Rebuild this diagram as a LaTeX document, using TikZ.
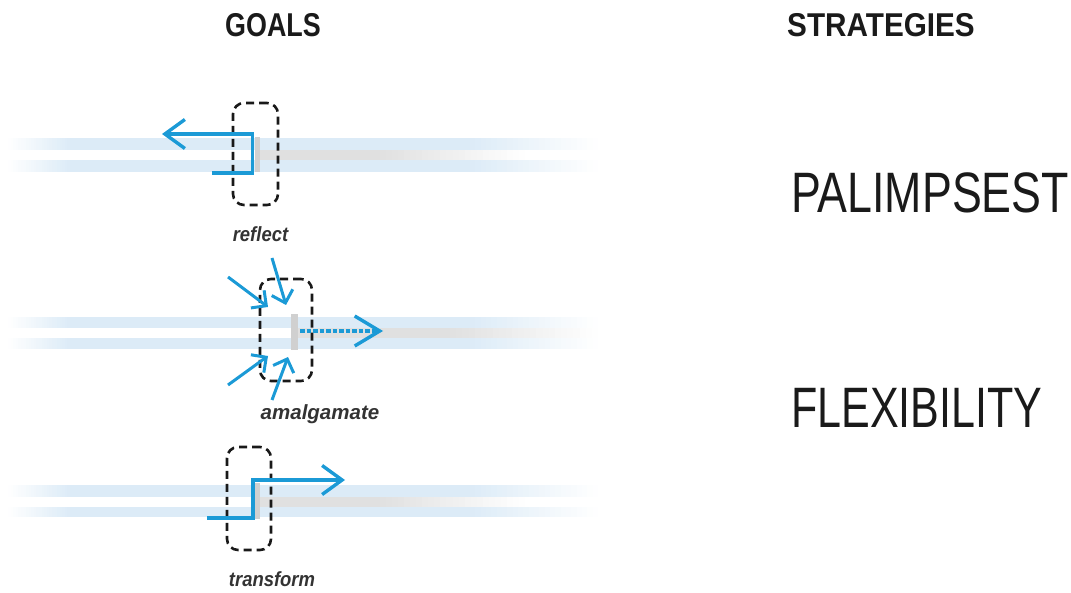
\documentclass[tikz,border=0pt]{standalone}
\usepackage{fontspec}
\setmainfont{Liberation Sans}
\newfontfamily\goalsfont[FakeStretch=0.815]{Liberation Sans}
\newfontfamily\stratfont[FakeStretch=0.9]{Liberation Sans}
\newfontfamily\palfont[FakeStretch=0.785]{Liberation Sans}
\newfontfamily\flexfont[FakeStretch=0.755]{Liberation Sans}
\newfontfamily\labfont[FakeStretch=0.9]{Liberation Sans}
\newfontfamily\labwidefont[FakeStretch=1.0]{Liberation Sans}
\usetikzlibrary{arrows.meta}
\definecolor{arrowblue}{HTML}{1B9AD6}
\definecolor{bandblue}{HTML}{DCEBF7}
\definecolor{bandgray}{HTML}{E0E0E0}
\definecolor{bargray}{HTML}{D0D0D0}
\definecolor{textdark}{HTML}{1A1A1A}
\newcommand\bandfadein[5]{%
  \foreach \i in {0,...,23}{%
    \pgfmathsetmacro\xa{#1+(#2-#1)*\i/24}%
    \pgfmathsetmacro\xb{#1+(#2-#1)*(\i+1)/24+0.4}%
    \pgfmathsetmacro\pc{100*(\i+0.5)/24}%
    \fill[#5!\pc!white] (\xa,#3) rectangle (\xb,#4);
  }}
\newcommand\bandfadeout[5]{%
  \foreach \i in {0,...,23}{%
    \pgfmathsetmacro\xa{#1+(#2-#1)*\i/24}%
    \pgfmathsetmacro\xb{#1+(#2-#1)*(\i+1)/24+0.4}%
    \pgfmathsetmacro\pc{100-100*(\i+0.5)/24}%
    \fill[#5!\pc!white] (\xa,#3) rectangle (\xb,#4);
  }}
\tikzset{
  goalbox/.style={draw=black!90, line width=2.6pt, dash pattern=on 8pt off 5pt,
    rounded corners=11pt, inner sep=0pt},
  flow/.style={draw=arrowblue, line width=3.4pt, line join=miter},
  bigtip/.style={-{Straight Barb[length=20pt,width=29pt]}},
  dashtip/.style={-{Straight Barb[length=25pt,width=30pt]}},
  smalltip/.style={-{Straight Barb[length=11pt,width=22pt]}},
  inflow/.style={draw=arrowblue, line width=3pt},
  heading/.style={anchor=base west, inner sep=0pt, text=textdark},
  strategy/.style={anchor=base west, inner sep=0pt, text=textdark},
  goallabel/.style={anchor=base, inner sep=0pt, text=black!80},
}
\begin{document}
\begin{tikzpicture}[x=1pt,y=-1pt]
\useasboundingbox (0,0) rectangle (1071,593);

% bands
\foreach \ua/\ub/\la/\lb/\gx/\gm/\ge in {138/150/160/172/259/380/525, 317/328/338/349/298/450/598, 485/497/507/517/260/380/525}{
  \bandfadein{8}{70}{\ua}{\ub}{bandblue}
  \fill[bandblue] (69.5,\ua) rectangle (470.5,\ub);
  \bandfadeout{470}{598}{\ua}{\ub}{bandblue}
  \bandfadein{8}{70}{\la}{\lb}{bandblue}
  \fill[bandblue] (69.5,\la) rectangle (470.5,\lb);
  \bandfadeout{470}{598}{\la}{\lb}{bandblue}
  \fill[bandgray] (\gx,\ub) rectangle (\gm+0.5,\la);
  \bandfadeout{\gm}{\ge}{\ub}{\la}{bandgray}
}
% gray bars
\fill[bargray] (255,137) rectangle (259.5,172);
\fill[bargray] (291,314) rectangle (298,350);
\fill[bargray] (255,483) rectangle (260,519);

% headings
\node[heading, font=\goalsfont\bfseries\fontsize{33}{33}\selectfont] (goals) at (225,37) {GOALS};
\node[heading, font=\stratfont\bfseries\fontsize{33}{33}\selectfont] (strategies) at (787,37) {STRATEGIES};
\node[strategy, font=\palfont\fontsize{57}{57}\selectfont] (palimpsest) at (791,213) {PALIMPSEST};
\node[strategy, font=\flexfont\fontsize{57}{57}\selectfont] (flexibility) at (791,428) {FLEXIBILITY};

% row 1: reflect
\node[goalbox, minimum width=45pt, minimum height=102pt] (box1) at (255.5,154) {};
\coordinate (r1s) at (212,173);
\coordinate (r1a) at (252.5,173);
\coordinate (r1b) at (252.5,134);
\coordinate (r1e) at (162,134);
\draw[flow, bigtip] (r1s) -- (r1a) -- (r1b) -- (r1e);
\node[goallabel, font=\labfont\bfseries\itshape\fontsize{20.5}{20.5}\selectfont] (lab1) at (260.5,242) {reflect};

% row 2: amalgamate
\node[goalbox, minimum width=52pt, minimum height=102pt] (box2) at (286,330) {};
\coordinate (a0s) at (300,331);
\coordinate (a0e) at (383,331);
\draw[flow, dash pattern=on 4.5pt off 2pt, dashtip] (a0s) -- (a0e);
\coordinate (a1s) at (228,277);  \coordinate (a1e) at (268,307);
\coordinate (a2s) at (272,258);  \coordinate (a2e) at (286,305);
\coordinate (a3s) at (228,385);  \coordinate (a3e) at (268,356);
\coordinate (a4s) at (272,400);  \coordinate (a4e) at (288,357);
\draw[inflow, smalltip] (a1s) -- (a1e);
\draw[inflow, smalltip] (a2s) -- (a2e);
\draw[inflow, smalltip] (a3s) -- (a3e);
\draw[inflow, smalltip] (a4s) -- (a4e);
\node[goallabel, font=\labwidefont\bfseries\itshape\fontsize{20.5}{20.5}\selectfont] (lab2) at (320,420) {amalgamate};

% row 3: transform
\node[goalbox, minimum width=44pt, minimum height=103pt] (box3) at (249,498.5) {};
\coordinate (t1s) at (207,518);
\coordinate (t1a) at (253,518);
\coordinate (t1b) at (253,480);
\coordinate (t1e) at (345,480);
\draw[flow, bigtip] (t1s) -- (t1a) -- (t1b) -- (t1e);
\node[goallabel, font=\labfont\bfseries\itshape\fontsize{20.5}{20.5}\selectfont] (lab3) at (272,586) {transform};
\end{tikzpicture}
\end{document}
